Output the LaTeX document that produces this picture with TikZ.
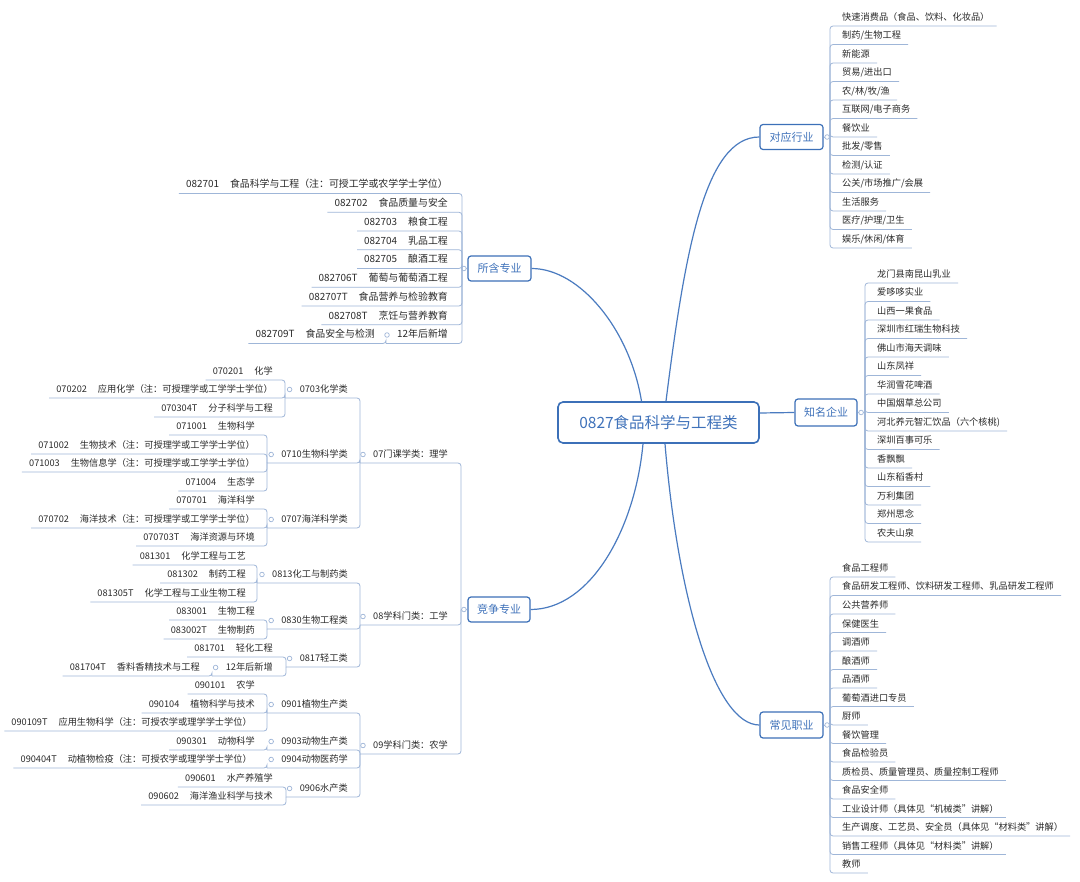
\documentclass[tikz,border=0pt]{standalone}
\usepackage{fontspec}
\setmainfont{Noto Sans CJK SC}
\usetikzlibrary{calc}
\definecolor{lineblue}{HTML}{4A7BC0}
\definecolor{ublue}{HTML}{9FB6D8}
\definecolor{boxblue}{HTML}{3C70B8}
\definecolor{txtblue}{HTML}{3F72BA}
\definecolor{leaftxt}{HTML}{2A2A2A}
\tikzset{
 leaf/.style={inner sep=0pt, text=leaftxt, font=\fontsize{9.2}{11}\selectfont},
 leafbig/.style={leaf, font=\fontsize{9.9}{12}\selectfont},
 uline/.style={draw=ublue, line width=0.8pt, rounded corners=3pt},
 dotc/.style={draw=ublue, fill=white, line width=0.7pt},
 topic/.style={draw=boxblue, line width=1.2pt, rounded corners=3pt, text=txtblue, fill=white,
   font=\fontsize{11}{13}\selectfont, minimum width=63pt, minimum height=25pt, inner sep=0pt},
 rootbox/.style={draw=boxblue, line width=1.6pt, rounded corners=5pt, minimum width=201pt,
   minimum height=41pt, text=txtblue, fill=white, font=\fontsize{15.5}{18}\selectfont, inner sep=0pt},
 branch/.style={draw=lineblue, line width=1.2pt},
}
\newcommand\mmgap{\hspace{11pt}}
% left leaf: [style]{name}{text right x}{underline y}{parent coord}{text}
\newcommand\mmL[6][leaf]{%
  \node[#1,anchor=base east] (#2) at (#3,#4-5.5) {#6};
  \draw[uline] ($(#2.base west)+(-7,5.5)$) -| (#5);}
% left parent: [style]{name}{text right x}{underline y}{left x}{parent coord}{text}
\newcommand\mmP[7][leaf]{%
  \node[#1,anchor=base east] (#2) at (#3,#4-5.5) {#7};
  \coordinate (#2u) at (#5,#4);
  \draw[uline] (#2u) -| (#6);
  \draw[dotc] ($(#2.base west)+(-10,-3)$) circle (2.3pt);}
% right leaf: {name}{text x}{underline y}{parent coord}{text}
\newcommand\mmR[5]{%
  \node[leaf,anchor=base west] (#1) at (#2,#3-5.5) {#5};
  \draw[uline] (#4) |- ($(#1.base east)+(7,5.5)$);}
\begin{document}
\begin{tikzpicture}[x=1pt,y=-1pt]
\fill[white] (0,0) rectangle (1080,882);
\useasboundingbox (0,0) rectangle (1080,882);

% root and main topics
\node[rootbox] (root) at (658.5,422.5) {0827食品科学与工程类};
\node[topic] (dy) at (791.5,137) {对应行业};
\node[topic, minimum width=62pt, minimum height=27pt] (zm) at (826,412.5) {知名企业};
\node[topic, minimum height=26pt] (cj) at (791.5,725) {常见职业};
\node[topic] (sh) at (499.5,268.5) {所含专业};
\node[topic, minimum width=62pt] (jz) at (499,609.5) {竞争专业};

\draw[branch] ($(root.north)+(7.5,0)$) .. controls (685,250) and (705,137) .. (dy.west);
\draw[branch] (sh.east) .. controls (580,268.5) and (630,330) .. ($(root.north)+(-17,0)$);
\draw[branch] ($(root.east)+(0,-9.5)$) .. controls (778,413) and (777,412.5) .. (zm.west);
\draw[branch] ($(root.south)+(-15.5,0)$) .. controls (635,530) and (590,609.5) .. (jz.east);
\draw[branch] ($(root.south)+(6.5,0)$) .. controls (678,600) and (715,725) .. (cj.west);

\coordinate (dyT) at (830,137);
\coordinate (zmT) at (865,412.5);
\coordinate (cjT) at (830,725);
\coordinate (shT) at (462,268.5);
\coordinate (jzT) at (461,609.5);

% right lists
\foreach \t [count=\i from 0] in {快速消费品（食品、饮料、化妆品）,制药/生物工程,新能源,贸易/进出口,农/林/牧/渔,互联网/电子商务,餐饮业,批发/零售,检测/认证,公关/市场推广/会展,生活服务,医疗/护理/卫生,娱乐/休闲/体育}
  {\mmR{dy\i}{842}{26+18.5*\i}{dyT}{\t}}
\foreach \t [count=\i from 0] in {龙门县南昆山乳业,爱哆哆实业,山西一果食品,深圳市红瑞生物科技,佛山市海天调味,山东凤祥,华润雪花啤酒,中国烟草总公司,河北养元智汇饮品（六个核桃),深圳百事可乐,香飘飘,山东稻香村,万利集团,郑州思念,农夫山泉}
  {\mmR{zm\i}{877}{283+18.5*\i}{zmT}{\t}}
\foreach \t [count=\i from 0] in {食品工程师,食品研发工程师、饮料研发工程师、乳品研发工程师,公共营养师,保健医生,调酒师,酿酒师,品酒师,葡萄酒进口专员,厨师,餐饮管理,食品检验员,质检员、质量管理员、质量控制工程师,食品安全师,工业设计师（具体见“机械类”讲解）,生产调度、工艺员、安全员（具体见“材料类”讲解）,销售工程师（具体见“材料类”讲解）,教师}
  {\mmR{cj\i}{842}{577+18.5*\i}{cjT}{\t}}

\draw[uline] (dy.east) -- (dyT);
\draw[uline] (zm.east) -- (zmT);
\draw[uline] (cj.east) -- (cjT);
\draw[uline] (sh.west) -- (shT);
\draw[uline] (jz.west) -- (jzT);
\draw[dotc] ($(dy.east)+(3.5,0)$) circle (2.3pt);
\draw[dotc] ($(zm.east)+(3.5,0)$) circle (2.3pt);
\draw[dotc] ($(cj.east)+(3.5,0)$) circle (2.3pt);
\draw[dotc] ($(sh.west)+(-3.5,0)$) circle (2.3pt);
\draw[dotc] ($(jz.west)+(-3.5,0)$) circle (2.3pt);

% 所含专业
\mmL[leafbig]{s0}{448}{193.5}{shT}{082701\mmgap 食品科学与工程（注：可授工学或农学学士学位）}
\mmL[leafbig]{s1}{448}{212.25}{shT}{082702\mmgap 食品质量与安全}
\mmL[leafbig]{s2}{448}{231}{shT}{082703\mmgap 粮食工程}
\mmL[leafbig]{s3}{448}{249.75}{shT}{082704\mmgap 乳品工程}
\mmL[leafbig]{s4}{448}{268.5}{shT}{082705\mmgap 酿酒工程}
\mmL[leafbig]{s5}{448}{287.25}{shT}{082706T\mmgap 葡萄与葡萄酒工程}
\mmL[leafbig]{s6}{448}{306}{shT}{082707T\mmgap 食品营养与检验教育}
\mmL[leafbig]{s7}{448}{324.75}{shT}{082708T\mmgap 烹饪与营养教育}
\mmP[leafbig]{s8}{448}{343.5}{386}{shT}{12年后新增}
\mmL[leafbig]{s8c}{375}{343.5}{s8u}{082709T\mmgap 食品安全与检测}

% 竞争专业
\mmP{c07}{448}{463}{360}{jzT}{07门课学类：理学}
\mmP{c08}{448}{625}{360}{jzT}{08学科门类：工学}
\mmP{c09}{448}{754}{360}{jzT}{09学科门类：农学}

\mmP{c0703}{348}{398}{285}{c07u}{0703化学类}
\mmP{c0710}{348}{463}{267}{c07u}{0710生物科学类}
\mmP{c0707}{348}{528}{267}{c07u}{0707海洋科学类}
\mmL{l070201}{273}{380}{c0703u}{070201\mmgap 化学}
\mmL{l070202}{273}{398}{c0703u}{070202\mmgap 应用化学（注：可授理学或工学学士学位）}
\mmL{l070304}{273}{417}{c0703u}{070304T\mmgap 分子科学与工程}
\mmL{l071001}{255}{435}{c0710u}{071001\mmgap 生物科学}
\mmL{l071002}{255}{454}{c0710u}{071002\mmgap 生物技术（注：可授理学或工学学士学位）}
\mmL{l071003}{255}{472}{c0710u}{071003\mmgap 生物信息学（注：可授理学或工学学士学位）}
\mmL{l071004}{255}{491}{c0710u}{071004\mmgap 生态学}
\mmL{l070701}{255}{509}{c0707u}{070701\mmgap 海洋科学}
\mmL{l070702}{255}{528}{c0707u}{070702\mmgap 海洋技术（注：可授理学或工学学士学位）}
\mmL{l070703}{255}{546}{c0707u}{070703T\mmgap 海洋资源与环境}

\mmP{c0813}{348}{583}{257}{c08u}{0813化工与制药类}
\mmP{c0830}{348}{629}{267}{c08u}{0830生物工程类}
\mmP{c0817}{348}{667}{286}{c08u}{0817轻工类}
\mmL{l081301}{246}{565}{c0813u}{081301\mmgap 化学工程与工艺}
\mmL{l081302}{246}{583}{c0813u}{081302\mmgap 制药工程}
\mmL{l081305}{246}{602}{c0813u}{081305T\mmgap 化学工程与工业生物工程}
\mmL{l083001}{255}{620}{c0830u}{083001\mmgap 生物工程}
\mmL{l083002}{255}{639}{c0830u}{083002T\mmgap 生物制药}
\mmL{l081701}{273}{657}{c0817u}{081701\mmgap 轻化工程}
\mmP{c0817x}{273}{676}{212}{c0817u}{12年后新增}
\mmL{l081704}{200}{676}{c0817xu}{081704T\mmgap 香料香精技术与工程}

\mmP{c0901}{348}{713}{267}{c09u}{0901植物生产类}
\mmP{c0903}{348}{750}{267}{c09u}{0903动物生产类}
\mmP{c0904}{348}{768}{267}{c09u}{0904动物医药学}
\mmP{c0906}{348}{797}{286}{c09u}{0906水产类}
\mmL{l090101}{255}{694}{c0901u}{090101\mmgap 农学}
\mmL{l090104}{255}{713}{c0901u}{090104\mmgap 植物科学与技术}
\mmL{l090109}{252}{731}{c0901u}{090109T\mmgap 应用生物科学（注：可授农学或理学学士学位）}
\mmL{l090301}{255}{750}{c0903u}{090301\mmgap 动物科学}
\mmL{l090404}{252}{768}{c0904u}{090404T\mmgap 动植物检疫（注：可授农学或理学学士学位）}
\mmL{l090601}{273}{787}{c0906u}{090601\mmgap 水产养殖学}
\mmL{l090602}{273}{805}{c0906u}{090602\mmgap 海洋渔业科学与技术}
\end{tikzpicture}
\end{document}
